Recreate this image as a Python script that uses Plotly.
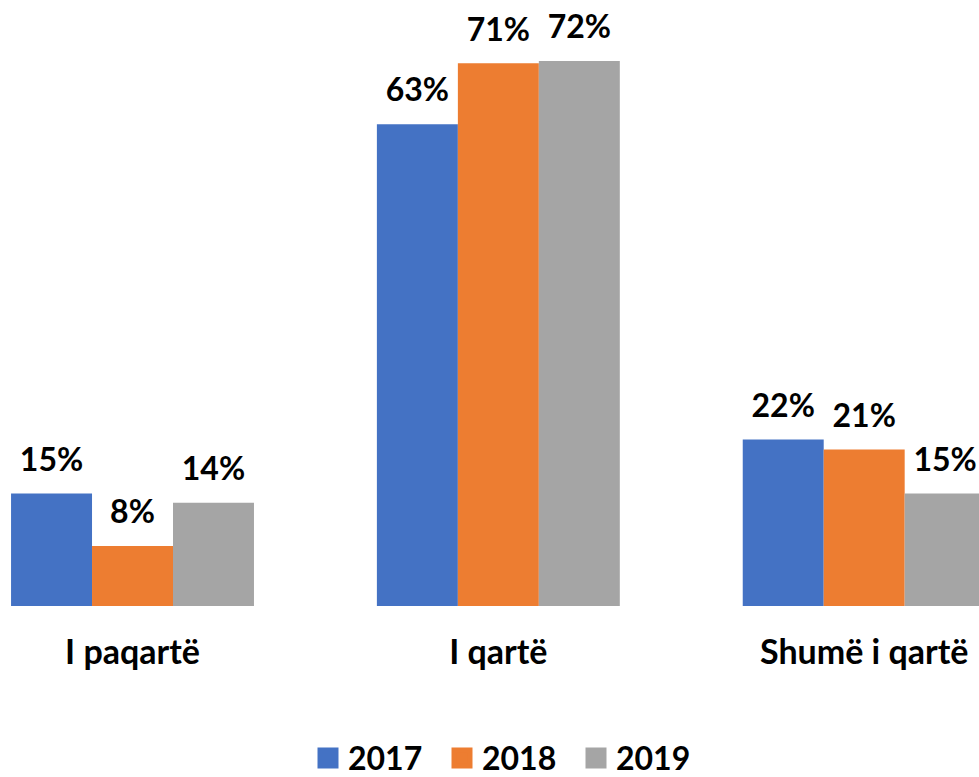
import plotly.graph_objects as go

categories = ["I paqartë", "I qartë", "Shumë i qartë"]
years = ["2017", "2018", "2019"]
values_2017 = [14.8, 63.4, 21.9]
values_2018 = [7.9, 71.4, 20.6]
values_2019 = [13.6, 71.7, 14.8]
labels_2017 = ["15%", "63%", "22%"]
labels_2018 = ["8%", "71%", "21%"]
labels_2019 = ["14%", "72%", "15%"]
colors = ["#4472C4", "#ED7D31", "#A5A5A5"]

series = [
    (years[0], values_2017, labels_2017, colors[0]),
    (years[1], values_2018, labels_2018, colors[1]),
    (years[2], values_2019, labels_2019, colors[2]),
]

FONT = "Lato"
fig = go.Figure()
for name, vals, labs, col in series:
    fig.add_trace(go.Bar(
        x=categories, y=vals, name=name,
        marker=dict(color=col, line=dict(width=0)),
        hoverinfo="skip", showlegend=False,
    ))
for name, vals, labs, col in series:
    fig.add_trace(go.Scatter(
        x=categories, y=vals, mode="markers+text", text=labs,
        textposition="top center",
        textfont=dict(family=FONT, size=32, color="#000000", weight="bold"),
        marker=dict(size=22, color="rgba(0,0,0,0)"),
        showlegend=False, hoverinfo="skip", cliponaxis=False,
    ))
# legend entries (square swatches)
for name, vals, labs, col in series:
    fig.add_trace(go.Scatter(
        x=[None], y=[None], mode="markers", name=name,
        marker=dict(symbol="square", size=16, color=col, line=dict(width=5, color=col)),
        xaxis="x2", yaxis="y2", hoverinfo="skip",
    ))

fig.update_layout(
    width=979, height=777,
    margin=dict(l=0, r=0, t=0, b=171, pad=0, autoexpand=False),
    paper_bgcolor="white", plot_bgcolor="white",
    barmode="group", bargap=0.336, bargroupgap=0,
    scattermode="group", scattergap=0.336,
    font=dict(family=FONT, color="#000000"),
    hovermode=False,
    showlegend=True,
    legend=dict(
        orientation="h", x=308 / 979, xanchor="left", y=-0.251, yanchor="middle",
        font=dict(family=FONT, size=32, color="#000000", weight="bold"),
        bgcolor="rgba(0,0,0,0)", entrywidth=89, entrywidthmode="pixels",
    ),
    xaxis2=dict(overlaying="x", visible=False),
    yaxis2=dict(overlaying="y", visible=False),
)
fig.layout.xaxis.update(
    type="category", range=[-0.3622, 2.3138], automargin=False,
    showgrid=False, zeroline=False, showline=False, ticks="",
    tickfont=dict(family=FONT, size=34, color="#000000", weight="bold"),
    ticklabelstandoff=23,
)
fig.layout.yaxis.update(
    range=[0, 606 / 7.6], showgrid=False, zeroline=False, showline=False,
    showticklabels=False, ticks="", automargin=False,
)

fig.write_html(
    "out.html",
    config={"displayModeBar": False},
    post_script="document.body.style.margin='0';document.body.style.overflow='hidden';",
)
